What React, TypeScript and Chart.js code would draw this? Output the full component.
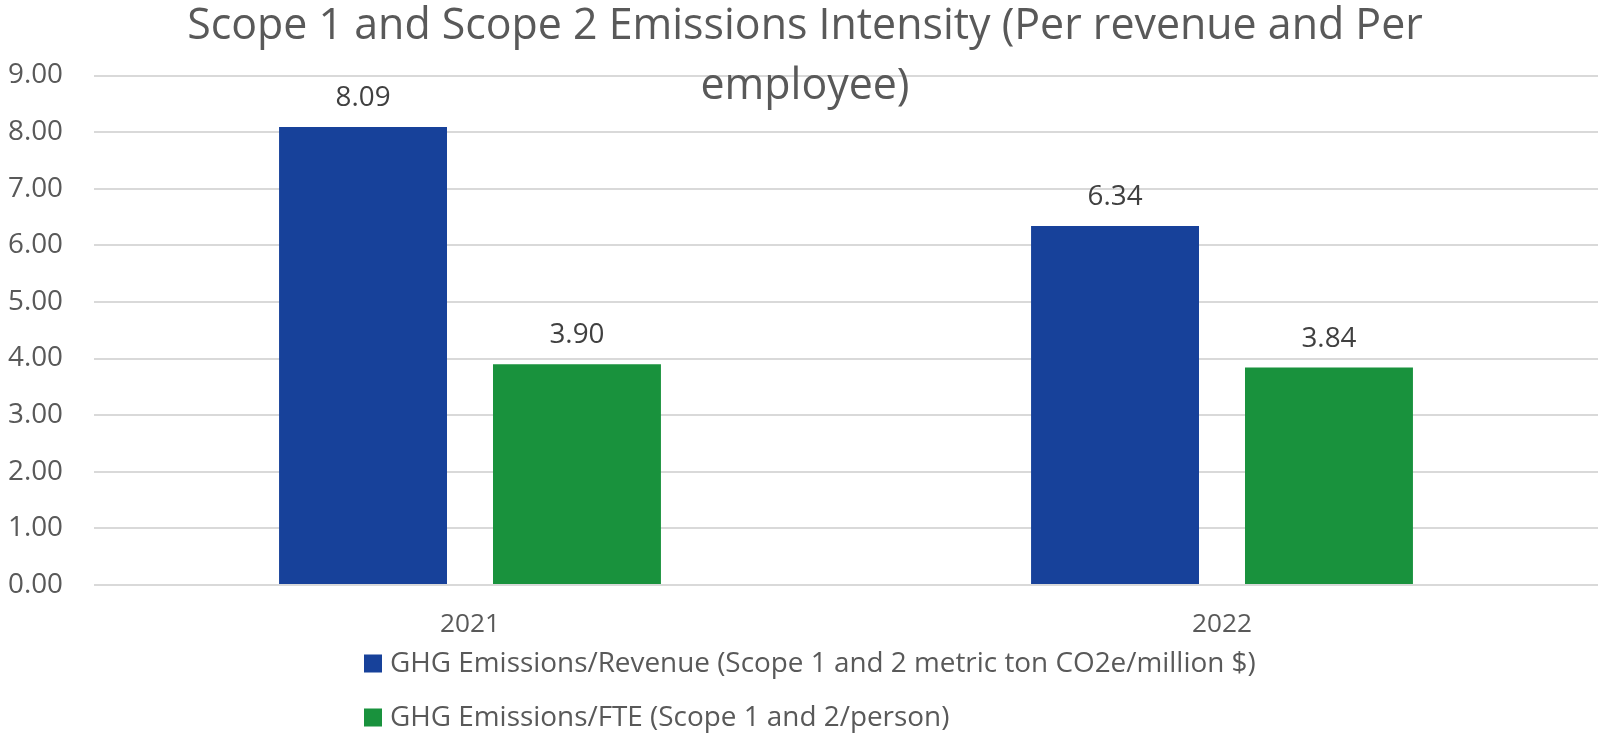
import React, { useEffect, useRef } from "react";
import { Chart, registerables } from "chart.js";

Chart.register(...registerables);

const categories = ["2021", "2022"];
const revenueIntensity = [8.09, 6.34];
const fteIntensity = [3.9, 3.84];
const seriesLabels = [
  "GHG Emissions/Revenue (Scope 1 and 2 metric ton CO2e/million $)",
  "GHG Emissions/FTE (Scope 1 and 2/person)",
];
const seriesColors = ["#17419A", "#19923D"];
const titleLines = [
  "Scope 1 and Scope 2 Emissions Intensity (Per revenue and Per",
  "employee)",
];
const yMin = 0;
const yMax = 9;
const yStep = 1;

const FAMILY = '"Open Sans", "Noto Sans", sans-serif';

function fitSize(text: string, target: number): number {
  const c = document.createElement("canvas");
  const ctx = c.getContext("2d")!;
  ctx.font = `100px ${FAMILY}`;
  return (100 * target) / ctx.measureText(text).width;
}

export default function App() {
  const canvasRef = useRef<HTMLCanvasElement | null>(null);

  useEffect(() => {
    document.body.style.margin = "0";
    document.body.style.overflow = "hidden";
    const canvas = canvasRef.current!;

    const titleSize = fitSize(titleLines[0], 1236);
    const numSize = fitSize("9.00", 55);
    const legendSize = fitSize(seriesLabels[0], 866);
    const xSize = fitSize("2021", 60);

    const titlePlugin = {
      id: "customTitle",
      afterDraw(chart: any) {
        const ctx = chart.ctx;
        ctx.save();
        ctx.font = `${titleSize}px ${FAMILY}`;
        ctx.fillStyle = "#595959";
        ctx.textAlign = "center";
        ctx.textBaseline = "alphabetic";
        ctx.fillText(titleLines[0], 805, 39);
        ctx.fillText(titleLines[1], 805, 98.5);
        ctx.restore();
      },
    };

    const valueLabelPlugin = {
      id: "valueLabels",
      afterDatasetsDraw(chart: any) {
        const ctx = chart.ctx;
        ctx.save();
        ctx.font = `${numSize}px ${FAMILY}`;
        ctx.fillStyle = "#404040";
        ctx.textAlign = "center";
        ctx.textBaseline = "alphabetic";
        chart.data.datasets.forEach((ds: any, i: number) => {
          const meta = chart.getDatasetMeta(i);
          meta.data.forEach((el: any, j: number) => {
            const v = ds.data[j] as number;
            ctx.fillText(v.toFixed(2), el.x, el.y - 21);
          });
        });
        ctx.restore();
      },
    };

    const legendPlugin = {
      id: "customLegend",
      afterDraw(chart: any) {
        const ctx = chart.ctx;
        const base = chart.chartArea.bottom + 78.5;
        ctx.save();
        ctx.font = `${legendSize}px ${FAMILY}`;
        ctx.textAlign = "left";
        ctx.textBaseline = "middle";
        chart.data.datasets.forEach((ds: any, i: number) => {
          const cy = base + i * 54;
          ctx.fillStyle = ds.backgroundColor;
          ctx.fillRect(364, cy - 9, 18, 18);
          ctx.fillStyle = "#595959";
          ctx.fillText(ds.label, 390, cy + 1);
        });
        ctx.restore();
      },
    };

    const chart = new Chart(canvas, {
      type: "bar",
      data: {
        labels: categories,
        datasets: [
          {
            label: seriesLabels[0],
            data: revenueIntensity,
            backgroundColor: seriesColors[0],
            categoryPercentage: 0.569,
            barPercentage: 0.785,
          },
          {
            label: seriesLabels[1],
            data: fteIntensity,
            backgroundColor: seriesColors[1],
            categoryPercentage: 0.569,
            barPercentage: 0.785,
          },
        ],
      },
      options: {
        responsive: false,
        animation: false,
        devicePixelRatio: 1,
        layout: { padding: { top: 75.5, left: 0, right: 0, bottom: 0 } },
        plugins: {
          legend: { display: false },
          title: { display: false },
          tooltip: { enabled: false },
        },
        scales: {
          x: {
            grid: { display: false, drawTicks: false },
            border: { display: false },
            ticks: {
              color: "#595959",
              font: { family: FAMILY, size: xSize },
              padding: 24,
            },
            afterFit(scale: any) {
              scale.height = 150;
            },
          },
          y: {
            min: yMin,
            max: yMax,
            grid: { color: "#D9D9D9", lineWidth: 2, drawTicks: false },
            border: { display: false },
            ticks: {
              stepSize: yStep,
              color: "#595959",
              font: { family: FAMILY, size: numSize },
              padding: 31,
              callback: (v: any) => Number(v).toFixed(2),
            },
            afterFit(scale: any) {
              scale.width = 94;
            },
          },
        },
      },
      plugins: [valueLabelPlugin, titlePlugin, legendPlugin],
    });

    return () => chart.destroy();
  }, []);

  return (
    <div style={{ width: 1598, height: 735, background: "#ffffff" }}>
      <canvas ref={canvasRef} width={1598} height={735} />
    </div>
  );
}
